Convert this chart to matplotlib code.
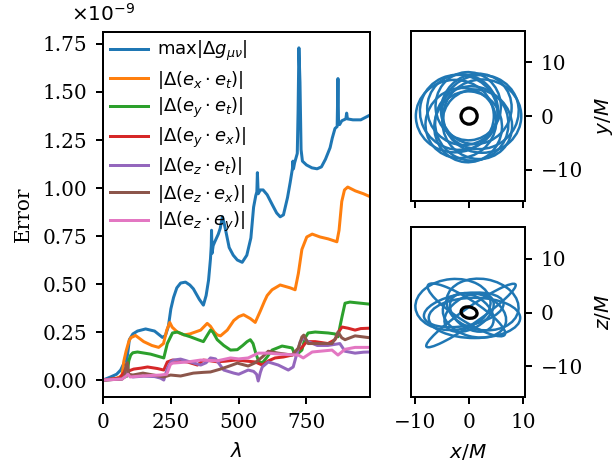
import numpy as np
import matplotlib
matplotlib.use("Agg")
import matplotlib.pyplot as plt
from matplotlib.patches import Ellipse
from matplotlib.ticker import FuncFormatter

# error curves, values in units of 1e-9
lam_g = [0, 28, 50, 65, 78, 83, 87, 92, 97, 110, 127, 157, 190, 219, 230, 241, 250, 260, 272, 286,
         304, 320, 333, 355, 370, 380, 389, 396, 399, 400, 402, 406, 412, 425, 432, 440, 446, 452,
         465, 480, 495, 513, 530, 545, 555, 563, 567, 569, 572, 580, 590, 605, 625, 640, 653, 665,
         680, 690, 698, 700, 702, 706, 716, 719, 722, 726, 730, 735, 750, 770, 789, 805, 820, 837,
         845, 855, 863, 866, 868, 872, 880, 895, 898, 901, 921, 950, 984]
err_g = [0, 0.016, 0.03, 0.052, 0.09, 0.12, 0.10, 0.15, 0.21, 0.24, 0.255, 0.266, 0.255, 0.222,
         0.232, 0.28, 0.37, 0.43, 0.48, 0.505, 0.51, 0.495, 0.475, 0.42, 0.39, 0.44, 0.52, 0.63,
         0.70, 0.78, 0.66, 0.70, 0.72, 0.76, 0.79, 0.85, 0.82, 0.78, 0.69, 0.65, 0.625, 0.613, 0.65,
         0.74, 0.90, 0.96, 0.98, 1.08, 0.97, 0.99, 0.99, 0.965, 0.91, 0.87, 0.85, 0.86, 0.95, 1.03,
         1.10, 1.14, 1.10, 1.13, 1.18, 1.40, 1.73, 1.55, 1.20, 1.14, 1.12, 1.105, 1.10, 1.11, 1.15,
         1.21, 1.26, 1.31, 1.32, 1.57, 1.35, 1.33, 1.35, 1.36, 1.39, 1.36, 1.355, 1.355, 1.38]

lam_xt = [0, 40, 70, 77, 85, 95, 102, 120, 150, 180, 205, 223, 235, 246, 255, 274, 298, 320, 340,
          360, 384, 396, 410, 421, 433, 458, 482, 500, 518, 543, 561, 580, 595, 605, 623, 653, 690,
          708, 720, 733, 751, 771, 800, 830, 862, 870, 880, 890, 902, 930, 960, 984]
err_xt = [0, 0.005, 0.02, 0.10, 0.15, 0.20, 0.22, 0.232, 0.20, 0.18, 0.17, 0.19, 0.26, 0.30, 0.275,
          0.25, 0.235, 0.24, 0.25, 0.26, 0.295, 0.28, 0.25, 0.235, 0.23, 0.26, 0.31, 0.33, 0.34,
          0.32, 0.30, 0.36, 0.41, 0.44, 0.47, 0.495, 0.48, 0.47, 0.555, 0.68, 0.745, 0.76, 0.745,
          0.735, 0.72, 0.78, 0.93, 0.99, 1.005, 0.985, 0.97, 0.955]

lam_yt = [0, 60, 88, 95, 102, 110, 127, 175, 212, 224, 237, 256, 274, 300, 322, 350, 370, 385, 396,
          405, 421, 445, 470, 495, 515, 531, 543, 553, 563, 572, 580, 590, 605, 623, 660, 697, 708,
          720, 733, 745, 756, 782, 830, 855, 866, 875, 881, 892, 910, 950, 984]
err_yt = [0, 0.005, 0.02, 0.10, 0.13, 0.142, 0.146, 0.135, 0.12, 0.115, 0.19, 0.245, 0.25, 0.235,
          0.225, 0.21, 0.20, 0.235, 0.26, 0.25, 0.21, 0.18, 0.156, 0.158, 0.18, 0.20, 0.21, 0.19,
          0.14, 0.104, 0.09, 0.094, 0.12, 0.156, 0.177, 0.167, 0.13, 0.14, 0.156, 0.22, 0.245, 0.25,
          0.245, 0.24, 0.225, 0.29, 0.33, 0.40, 0.406, 0.40, 0.395]

lam_yx = [0, 60, 78, 83, 88, 100, 113, 140, 164, 200, 224, 237, 256, 280, 311, 348, 370, 396, 420,
          450, 488, 520, 561, 587, 610, 634, 665, 697, 715, 733, 751, 782, 829, 855, 868, 881, 903,
          929, 950, 984]
err_yx = [0, 0.01, 0.04, 0.06, 0.045, 0.05, 0.057, 0.062, 0.068, 0.06, 0.052, 0.094, 0.104, 0.10,
          0.094, 0.078, 0.104, 0.10, 0.095, 0.098, 0.104, 0.10, 0.094, 0.078, 0.10, 0.115, 0.12,
          0.13, 0.15, 0.17, 0.20, 0.20, 0.19, 0.21, 0.25, 0.276, 0.27, 0.26, 0.268, 0.27]

lam_zt = [0, 70, 82, 87, 92, 110, 150, 190, 212, 224, 237, 250, 260, 286, 322, 360, 380, 396, 415,
          445, 482, 500, 535, 555, 566, 572, 580, 587, 609, 646, 683, 701, 715, 727, 740, 756, 790,
          829, 873, 892, 929, 960, 984]
err_zt = [0, 0.005, 0.02, 0.075, 0.03, 0.016, 0.02, 0.018, 0.01, 0.0, 0.06, 0.095, 0.104, 0.109,
          0.094, 0.078, 0.09, 0.115, 0.11, 0.052, 0.036, 0.03, 0.052, 0.045, 0.03, -0.005, 0.04,
          0.068, 0.094, 0.078, 0.052, 0.068, 0.14, 0.20, 0.22, 0.20, 0.18, 0.18, 0.19, 0.15, 0.14,
          0.145, 0.146]

lam_zx = [0, 70, 80, 85, 90, 95, 110, 147, 190, 224, 249, 286, 333, 370, 396, 433, 470, 495, 535,
          561, 587, 609, 646, 697, 720, 733, 740, 756, 807, 844, 858, 866, 880, 892, 929, 984]
err_zx = [0, 0.005, 0.02, 0.08, 0.09, 0.03, 0.026, 0.036, 0.025, 0.016, 0.026, 0.021, 0.036, 0.04,
          0.042, 0.057, 0.075, 0.088, 0.073, 0.09, 0.12, 0.15, 0.14, 0.13, 0.167, 0.224, 0.234,
          0.19, 0.19, 0.19, 0.22, 0.25, 0.22, 0.21, 0.23, 0.22]

lam_zy = [0, 70, 85, 92, 100, 140, 212, 235, 248, 256, 311, 360, 421, 470, 500, 535, 572, 609, 650,
          720, 738, 771, 844, 866, 892, 929, 984]
err_zy = [0, 0.005, 0.02, 0.03, 0.016, 0.021, 0.026, 0.03, 0.08, 0.088, 0.094, 0.104, 0.10, 0.115,
          0.11, 0.115, 0.14, 0.14, 0.135, 0.13, 0.115, 0.146, 0.156, 0.13, 0.16, 0.17, 0.17]

labels = [r'$\max|\Delta g_{\mu\nu}|$', r'$|\Delta(e_x \cdot e_t)|$', r'$|\Delta(e_y \cdot e_t)|$',
          r'$|\Delta(e_y \cdot e_x)|$', r'$|\Delta(e_z \cdot e_t)|$', r'$|\Delta(e_z \cdot e_x)|$',
          r'$|\Delta(e_z \cdot e_y)|$']

# orbit loops in the x-y plane: periapsis / apoapsis radius and apoapsis direction (deg)
peri_r = [4.6, 4.8, 4.5, 4.6, 5.0, 4.8, 4.5, 4.7, 5.2, 5.0, 5.5]
apo_r = [9.9, 9.7, 8.2, 8.6, 8.4, 8.6, 8.8, 8.7, 9.3, 9.4, 8.4]
apo_dir = [180, 0, 95, -95, 135, 45, -45, -140, 160, 20, -70]

# orbit loops seen in the x-z plane (centre, full width, full height, tilt)
xz_cx = [0.35, -0.5, -3.0, 2.5, 1.0, 0.0, 0.5, -1.0, 1.0]
xz_cz = [-0.55, 0.5, 1.5, 1.5, -1.0, 0.0, 0.0, 0.5, -0.5]
xz_w = [20.2, 17.0, 14.0, 13.5, 17.0, 10.0, 9.0, 15.0, 12.0]
xz_h = [3.0, 4.0, 9.5, 9.5, 7.5, 6.0, 6.0, 6.0, 8.0]
xz_ang = [35, -33, 5, -10, 0, 30, -35, 10, -15]

# small inner orbit (black)
inner_w_xy, inner_h_xy, inner_ang_xy = 3.0, 3.0, 0
inner_w_xz, inner_h_xz, inner_ang_xz = 3.0, 2.1, -12

plt.rcParams['font.family'] = 'serif'
plt.rcParams['font.size'] = 8
plt.rcParams['mathtext.fontset'] = 'dejavusans'
plt.rcParams['xtick.major.size'] = 2.8
plt.rcParams['ytick.major.size'] = 2.8

fig = plt.figure(figsize=(615 / 180, 463 / 180), dpi=180)

ax = fig.add_axes([0.1675, 0.1425, 0.4341, 0.7884])
series = [(lam_g, err_g), (lam_xt, err_xt), (lam_yt, err_yt), (lam_yx, err_yx),
          (lam_zt, err_zt), (lam_zx, err_zx), (lam_zy, err_zy)]
for i, (l, e) in enumerate(series):
    ax.plot(l, np.array(e) * 1e-9, color='C%d' % i, lw=1.2, label=labels[i])
ax.set_xlim(0, 984)
ax.set_ylim(-0.0885e-9, 1.8125e-9)
ax.set_xticks([0, 250, 500, 750])
ax.set_yticks(np.arange(0, 1.8, 0.25) * 1e-9)
ax.yaxis.set_major_formatter(FuncFormatter(lambda v, p: '%.2f' % (v * 1e9)))
# scale factor written above the axis, like the offset text
ax.text(0.0, 1.032, r'$\times10^{-9}$', transform=ax.transAxes, ha='center', va='baseline')
ax.set_xlabel(r'$\lambda$')
ax.set_ylabel('Error')
ax.legend(loc='upper left', frameon=False, fontsize=7.2, labelspacing=0.3,
          handlelength=2.1, handletextpad=0.5, borderaxespad=0.1, borderpad=0.3)

ax1 = fig.add_axes([0.6683, 0.5659, 0.1854, 0.3678])
ax2 = fig.add_axes([0.6683, 0.1419, 0.1854, 0.3672])

for k in range(len(peri_r)):
    a = (peri_r[k] + apo_r[k]) / 2
    c = (apo_r[k] - peri_r[k]) / 2
    b = np.sqrt(peri_r[k] * apo_r[k])
    th = np.deg2rad(apo_dir[k])
    ax1.add_patch(Ellipse((c * np.cos(th), c * np.sin(th)), 2 * a, 2 * b, angle=apo_dir[k],
                          fill=False, ec='C0', lw=1.0))
ax1.add_patch(Ellipse((0, 0), inner_w_xy, inner_h_xy, angle=inner_ang_xy, fill=False, ec='k', lw=1.3))

for k in range(len(xz_cx)):
    ax2.add_patch(Ellipse((xz_cx[k], xz_cz[k]), xz_w[k], xz_h[k], angle=xz_ang[k],
                          fill=False, ec='C0', lw=1.0))
ax2.add_patch(Ellipse((0, 0), inner_w_xz, inner_h_xz, angle=inner_ang_xz, fill=False, ec='k', lw=1.3))

for a_, lab in [(ax1, r'$y/M$'), (ax2, r'$z/M$')]:
    a_.set_xlim(-10.8, 10.4)
    a_.set_ylim(-15.8, 15.9)
    a_.set_xticks([-10, 0, 10])
    a_.set_yticks([-10, 0, 10])
    a_.yaxis.tick_right()
    a_.yaxis.set_label_position('right')
    a_.set_ylabel(lab)
ax1.tick_params(labelbottom=False)
ax2.set_xlabel(r'$x/M$')

fig.savefig('out.png', dpi=180)
